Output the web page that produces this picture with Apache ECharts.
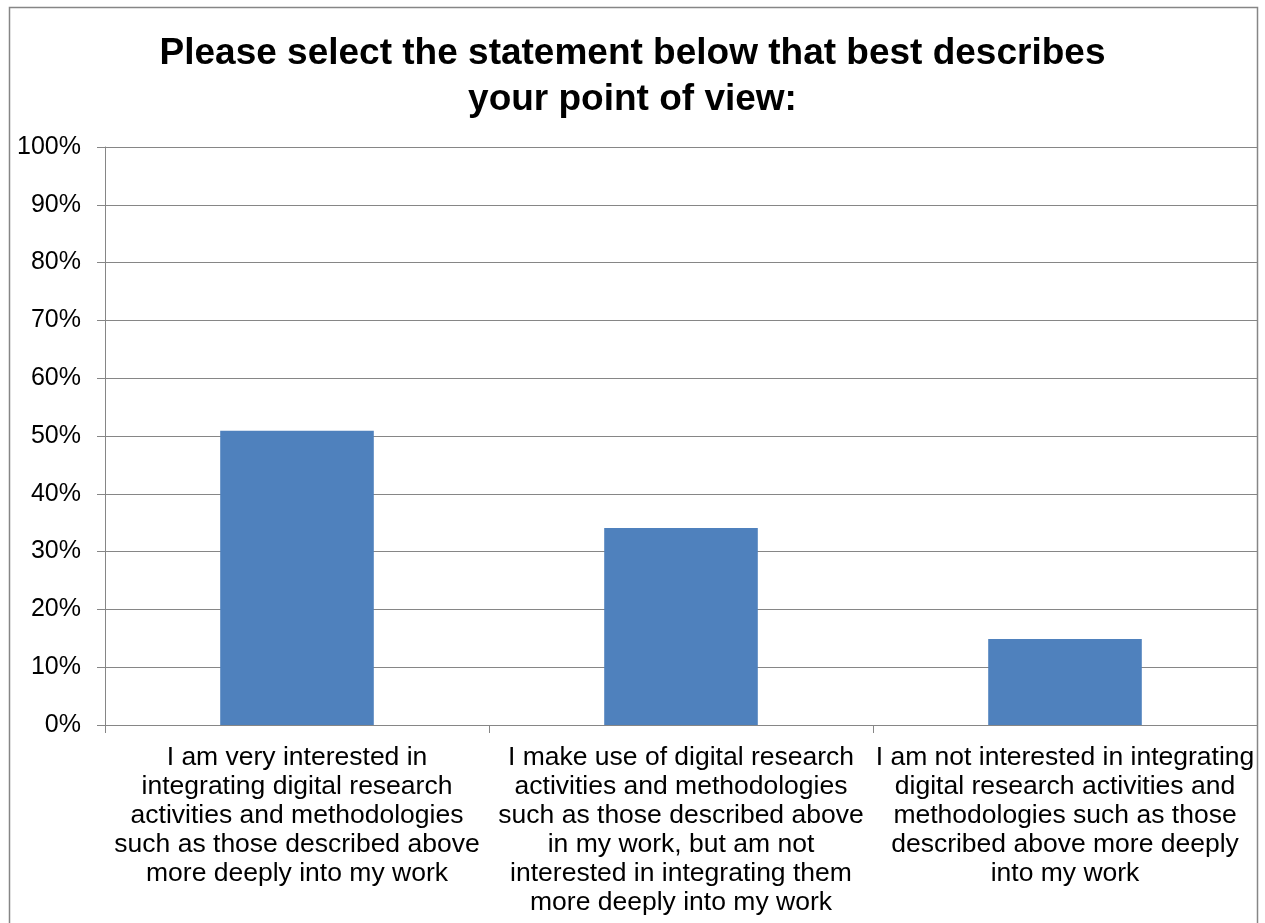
<!DOCTYPE html>
<html>
<head>
<meta charset="utf-8">
<script src="https://cdn.jsdelivr.net/npm/echarts@6/dist/echarts.min.js"></script>
<style>
  html, body { margin: 0; padding: 0; background: #fff; }
  #main { width: 1265px; height: 923px; }
</style>
</head>
<body>
<div id="main"></div>
<script>
var titleText = 'Please select the statement below that best describes\nyour point of view:'
var categories = [
  'I am very interested in\nintegrating digital research\nactivities and methodologies\nsuch as those described above\nmore deeply into my work',
  'I make use of digital research\nactivities and methodologies\nsuch as those described above\nin my work, but am not\ninterested in integrating them\nmore deeply into my work',
  'I am not interested in integrating\ndigital research activities and\nmethodologies such as those\ndescribed above more deeply\ninto my work'
]
var values = [50.9, 34.1, 14.9]
var yTicks = [0, 10, 20, 30, 40, 50, 60, 70, 80, 90, 100]

var myChart = echarts.init(document.getElementById('main'))
var grey = '#868686'
var font = '"Liberation Sans", Arial, sans-serif'

var option = {
  animation: false,
  backgroundColor: '#fff',
  title: {
    text: titleText,
    left: 'center',
    top: 26,
    textStyle: {
      fontFamily: font,
      fontSize: 37,
      fontWeight: 'bold',
      color: '#000',
      lineHeight: 46
    }
  },
  graphic: [{
    type: 'rect',
    shape: { x: 9.5, y: 7.5, width: 1248, height: 1000 },
    style: { fill: 'none', stroke: grey, lineWidth: 1.5 },
    silent: true
  }],
  grid: {
    left: 105,
    right: 8,
    top: 147,
    bottom: 198
  },
  xAxis: {
    type: 'category',
    data: categories,
    axisLine: { lineStyle: { color: grey, width: 1 } },
    axisTick: { show: true, length: 8, alignWithLabel: false, lineStyle: { color: grey } },
    axisLabel: {
      interval: 0,
      margin: 18,
      fontFamily: font,
      fontSize: 26.5,
      lineHeight: 29,
      color: '#000',
      align: 'center'
    }
  },
  yAxis: {
    type: 'value',
    min: yTicks[0],
    max: yTicks[yTicks.length - 1],
    interval: yTicks[1] - yTicks[0],
    axisLine: { show: true, lineStyle: { color: grey, width: 1 } },
    axisTick: { show: true, length: 8, lineStyle: { color: grey } },
    splitLine: { lineStyle: { color: grey, width: 1 } },
    axisLabel: {
      formatter: '{value}%',
      margin: 24,
      fontFamily: font,
      fontSize: 25,
      color: '#000'
    }
  },
  series: [{
    name: 'share',
    type: 'bar',
    data: values,
    barWidth: '40%',
    itemStyle: { color: '#4F81BD' }
  }]
}

myChart.setOption(option)
</script>
</body>
</html>
